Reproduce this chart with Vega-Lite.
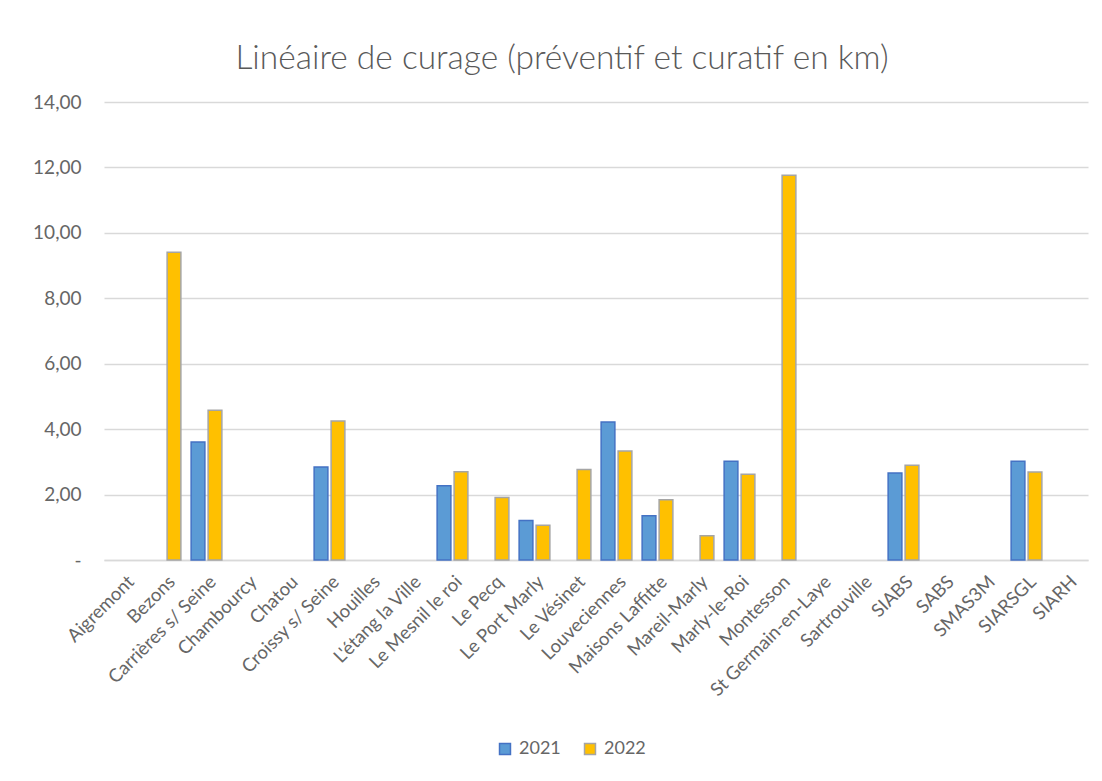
{
  "$schema": "https://vega.github.io/schema/vega-lite/v6.json",
  "width": 984,
  "height": 458,
  "autosize": {"type": "none"},
  "padding": {"left": 104, "top": 102, "right": 14, "bottom": 221},
  "background": "white",
  "title": {
    "text": "Linéaire de curage (préventif et curatif en km)",
    "font": "Lato",
    "fontSize": 33.5,
    "fontWeight": 300,
    "color": "#595959",
    "anchor": "middle",
    "frame": "group",
    "dx": -34,
    "offset": 17
  },
  "data": {
    "values": [
      {"commune": "Bezons", "annee": "2022", "km": 9.41},
      {"commune": "Carrières s/ Seine", "annee": "2021", "km": 3.61},
      {"commune": "Carrières s/ Seine", "annee": "2022", "km": 4.58},
      {"commune": "Croissy s/ Seine", "annee": "2021", "km": 2.84},
      {"commune": "Croissy s/ Seine", "annee": "2022", "km": 4.25},
      {"commune": "Le Mesnil le roi", "annee": "2021", "km": 2.27},
      {"commune": "Le Mesnil le roi", "annee": "2022", "km": 2.7},
      {"commune": "Le Pecq", "annee": "2022", "km": 1.91},
      {"commune": "Le Port Marly", "annee": "2021", "km": 1.21},
      {"commune": "Le Port Marly", "annee": "2022", "km": 1.06},
      {"commune": "Le Vésinet", "annee": "2022", "km": 2.77},
      {"commune": "Louveciennes", "annee": "2021", "km": 4.22},
      {"commune": "Louveciennes", "annee": "2022", "km": 3.33},
      {"commune": "Maisons Laffitte", "annee": "2021", "km": 1.35},
      {"commune": "Maisons Laffitte", "annee": "2022", "km": 1.84},
      {"commune": "Mareil-Marly", "annee": "2022", "km": 0.74},
      {"commune": "Marly-le-Roi", "annee": "2021", "km": 3.02},
      {"commune": "Marly-le-Roi", "annee": "2022", "km": 2.62},
      {"commune": "Montesson", "annee": "2022", "km": 11.76},
      {"commune": "SIABS", "annee": "2021", "km": 2.66},
      {"commune": "SIABS", "annee": "2022", "km": 2.9},
      {"commune": "SIARSGL", "annee": "2021", "km": 3.02},
      {"commune": "SIARSGL", "annee": "2022", "km": 2.69}
    ]
  },
  "mark": {"type": "bar", "strokeWidth": 1.5},
  "encoding": {
    "x": {
      "field": "commune",
      "type": "nominal",
      "scale": {
        "domain": ["Aigremont", "Bezons", "Carrières s/ Seine", "Chambourcy", "Chatou", "Croissy s/ Seine", "Houilles", "L'étang la Ville", "Le Mesnil le roi", "Le Pecq", "Le Port Marly", "Le Vésinet", "Louveciennes", "Maisons Laffitte", "Mareil-Marly", "Marly-le-Roi", "Montesson", "St Germain-en-Laye", "Sartrouville", "SIABS", "SABS", "SMAS3M", "SIARSGL", "SIARH"],
        "paddingInner": 0.25,
        "paddingOuter": 0.125
      },
      "axis": {
        "title": null,
        "labelAngle": -45,
        "labelFont": "Lato",
        "labelFontSize": 18.5,
        "labelColor": "#666666",
        "labelPadding": 12,
        "labelLimit": 300,
        "ticks": false,
        "domainColor": "#D9D9D9",
        "domainWidth": 1.5
      }
    },
    "xOffset": {
      "field": "annee",
      "type": "nominal",
      "scale": {"domain": ["2021", "2022"], "paddingInner": 0.19}
    },
    "y": {
      "field": "km",
      "type": "quantitative",
      "scale": {"domain": [0, 14]},
      "axis": {
        "title": null,
        "values": [0, 2, 4, 6, 8, 10, 12, 14],
        "labelExpr": "datum.value == 0 ? '-' : replace(format(datum.value, '.2f'), '.', ',')",
        "labelFont": "Lato",
        "labelFontSize": 19,
        "labelColor": "#666666",
        "labelPadding": 23,
        "domain": false,
        "ticks": false,
        "gridColor": "#D9D9D9",
        "gridWidth": 1.5
      }
    },
    "fill": {
      "field": "annee",
      "type": "nominal",
      "scale": {"domain": ["2021", "2022"], "range": ["#5B9BD5", "#FFC000"]},
      "legend": {
        "title": null,
        "orient": "none",
        "legendX": 392,
        "legendY": 638,
        "direction": "horizontal",
        "symbolType": "square",
        "symbolSize": 120,
        "symbolStrokeWidth": 1.5,
        "labelFont": "Lato",
        "labelFontSize": 18,
        "labelColor": "#666666",
        "columnPadding": 20,
        "labelOffset": 5
      }
    },
    "stroke": {
      "field": "annee",
      "type": "nominal",
      "scale": {"domain": ["2021", "2022"], "range": ["#4472C4", "#A5A5A5"]},
      "legend": null
    }
  },
  "config": {
    "view": {"stroke": null}
  }
}
